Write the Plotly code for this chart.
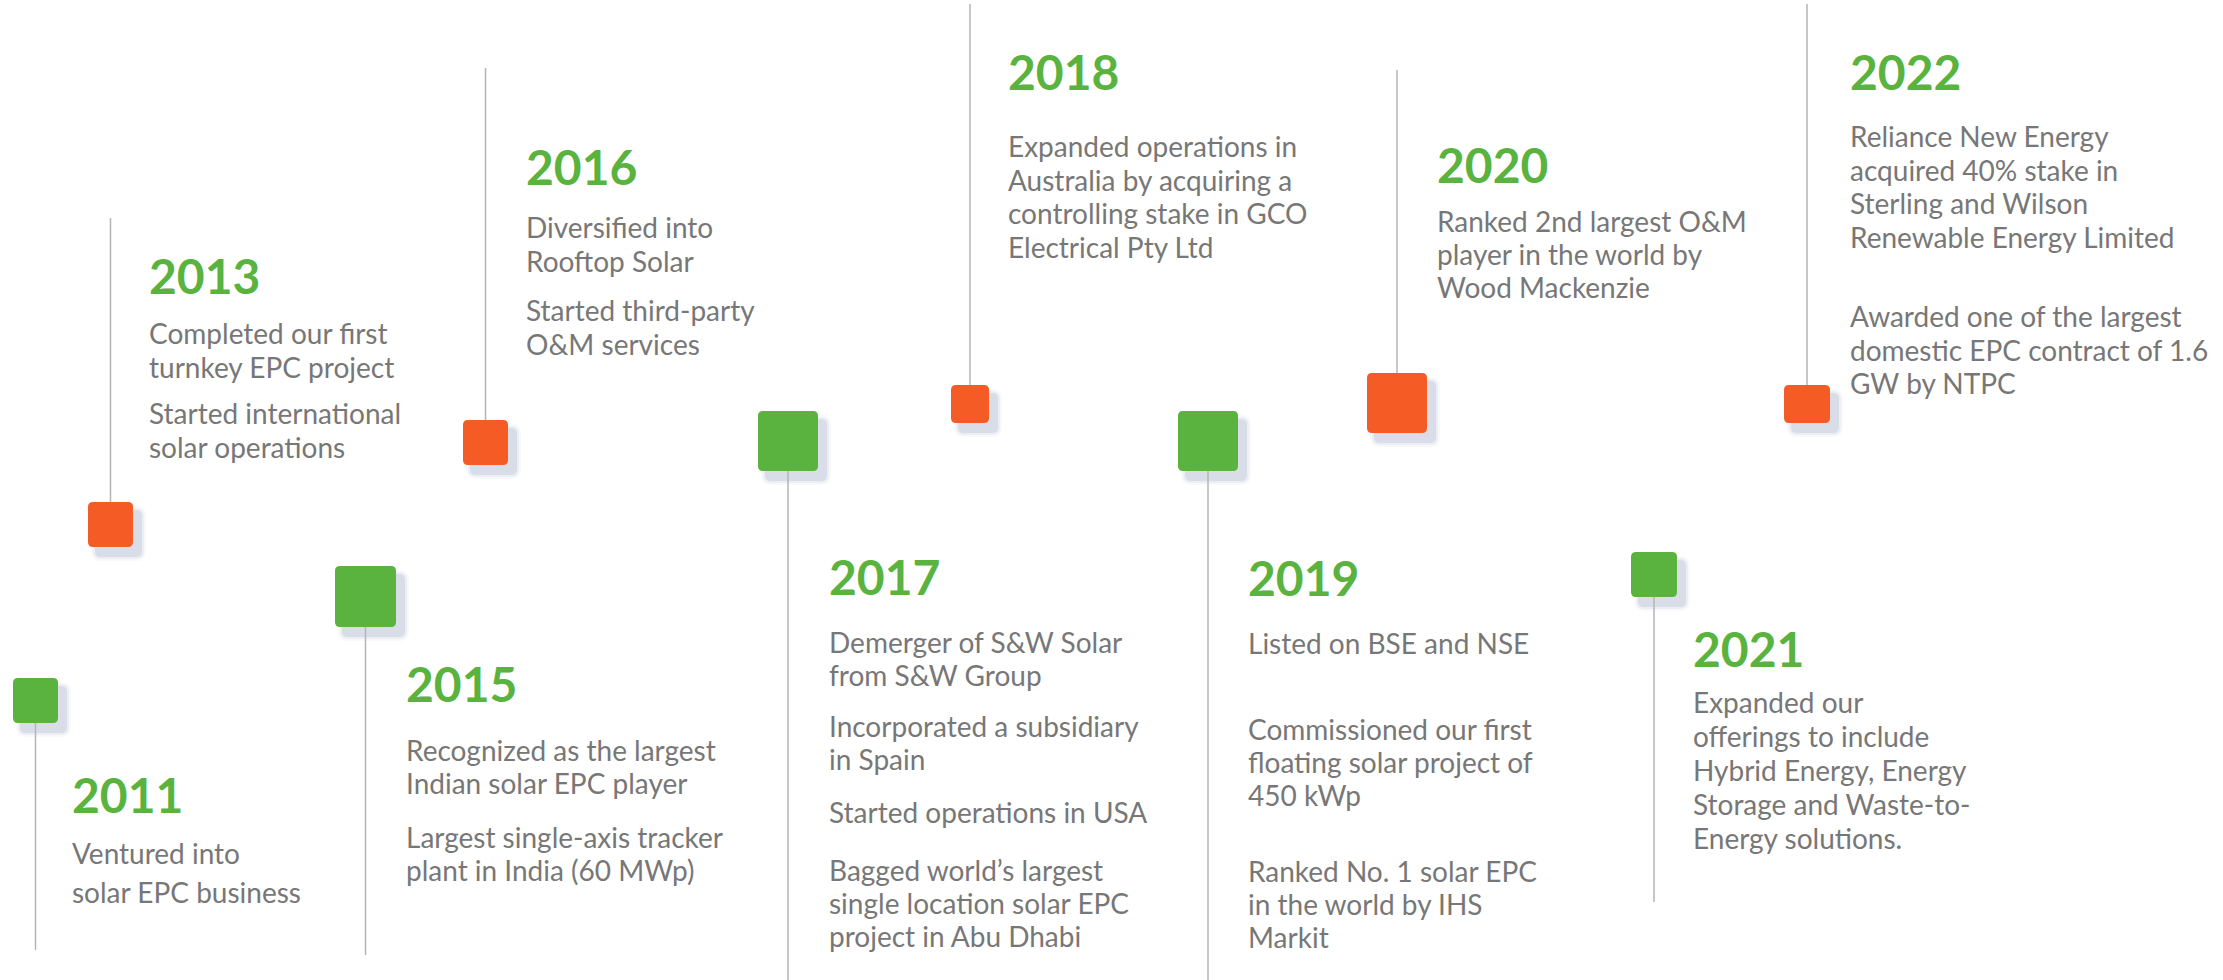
import plotly.graph_objects as go

W, H = 2223, 980
GREEN = "#59b33e"
ORANGE = "#f45b25"
TEXT_GREY = "#777777"
STEM_GREY = "#b5b5b5"
FONT = "Lato"
YEAR_SIZE = 48
BODY_SIZE = 28

# --- content -------------------------------------------------------------
years = ["2011", "2013", "2015", "2016", "2017", "2018", "2019", "2020", "2021", "2022"]

# one entry per year: list of paragraphs, each paragraph = its wrapped lines
milestones = [
    [["Ventured into", "solar EPC business"]],
    [["Completed our first", "turnkey EPC project"],
     ["Started international", "solar operations"]],
    [["Recognized as the largest", "Indian solar EPC player"],
     ["Largest single-axis tracker", "plant in India (60 MWp)"]],
    [["Diversified into", "Rooftop Solar"],
     ["Started third-party", "O&M services"]],
    [["Demerger of S&W Solar", "from S&W Group"],
     ["Incorporated a subsidiary", "in Spain"],
     ["Started operations in USA"],
     ["Bagged world\u2019s largest", "single location solar EPC", "project in Abu Dhabi"]],
    [["Expanded operations in", "Australia by acquiring a",
      "controlling stake in GCO", "Electrical Pty Ltd"]],
    [["Listed on BSE and NSE"],
     ["Commissioned our first", "floating solar project of", "450 kWp"],
     ["Ranked No. 1 solar EPC", "in the world by IHS", "Markit"]],
    [["Ranked 2nd largest O&M", "player in the world by", "Wood Mackenzie"]],
    [["Expanded our", "offerings to include", "Hybrid Energy, Energy",
      "Storage and Waste-to-", "Energy solutions."]],
    [["Reliance New Energy", "acquired 40% stake in", "Sterling and Wilson",
      "Renewable Energy Limited"],
     ["Awarded one of the largest", "domestic EPC contract of 1.6", "GW by NTPC"]],
]

# --- layout (pixel space, y grows downward) -------------------------------
box_color = [GREEN, ORANGE, GREEN, ORANGE, GREEN, ORANGE, GREEN, ORANGE, GREEN, ORANGE]
box_x = [13, 88, 335, 463, 758, 951, 1178, 1367, 1631, 1784]
box_y = [678, 502, 566, 420, 411, 385, 411, 373, 552, 385]
box_w = [45, 45, 61, 45, 60, 38, 60, 60, 46, 46]
box_h = [45, 45, 61, 45, 60, 38, 60, 60, 45, 38]
stem_end = [950, 218, 955, 68, 980, 4, 980, 70, 902, 4]

label_x = [72, 149, 406, 526, 829, 1008, 1248, 1437, 1693, 1850]
year_base = [813, 294, 702, 185, 595, 90, 596, 183, 667, 90]
para_base = [[864], [344, 424], [761, 848], [238, 321], [653, 737, 823, 881],
             [157], [654, 740, 882], [232], [713], [147, 327]]
line_step = [39, 33.5, 33, 34, 33, 33.7, 33, 33, 34, 33.5]


def rounded_rect(x0, y0, x1, y1, r):
    return (f"M{x0 + r},{y0} H{x1 - r} Q{x1},{y0} {x1},{y0 + r} V{y1 - r} "
            f"Q{x1},{y1} {x1 - r},{y1} H{x0 + r} Q{x0},{y1} {x0},{y1 - r} "
            f"V{y0 + r} Q{x0},{y0} {x0 + r},{y0} Z")


fig = go.Figure()

# vertical stems
stem_xs, stem_ys = [], []
for i in range(len(years)):
    cx = box_x[i] + box_w[i] / 2
    start = box_y[i] + box_h[i] if stem_end[i] > box_y[i] else box_y[i]
    stem_xs += [cx, cx, None]
    stem_ys += [start, stem_end[i], None]
fig.add_trace(go.Scatter(x=stem_xs, y=stem_ys, mode="lines",
                         line=dict(color=STEM_GREY, width=1.5),
                         hoverinfo="skip", showlegend=False))

# year labels
fig.add_trace(go.Scatter(
    x=label_x, y=[b - 0.25 * YEAR_SIZE for b in year_base], text=years,
    mode="text", textposition="middle right", cliponaxis=False,
    textfont=dict(family=FONT, size=YEAR_SIZE, color=GREEN, weight="bold"),
    hoverinfo="skip", showlegend=False))

# description lines
tx, ty, tt = [], [], []
for i, paras in enumerate(milestones):
    for p, lines in enumerate(paras):
        for k, line in enumerate(lines):
            tx.append(label_x[i])
            ty.append(para_base[i][p] + k * line_step[i] - 0.25 * BODY_SIZE)
            tt.append(line)
fig.add_trace(go.Scatter(
    x=tx, y=ty, text=tt, mode="text", textposition="middle right", cliponaxis=False,
    textfont=dict(family=FONT, size=BODY_SIZE, color=TEXT_GREY),
    hoverinfo="skip", showlegend=False))

# milestone boxes with a soft drop shadow
shapes = []
for i in range(len(years)):
    x0, y0 = box_x[i], box_y[i]
    x1, y1 = x0 + box_w[i], y0 + box_h[i]
    for grow, alpha in [(5, 0.05), (3, 0.09), (1, 0.16)]:
        shapes.append(dict(type="path", xref="x", yref="y", layer="below",
                           path=rounded_rect(x0 + 8 - grow, y0 + 9 - grow,
                                             x1 + 8 + grow, y1 + 9 + grow, 5 + grow),
                           fillcolor=f"rgba(120,135,170,{alpha})", line_width=0))
    shapes.append(dict(type="path", xref="x", yref="y", layer="above",
                       path=rounded_rect(x0, y0, x1, y1, 5),
                       fillcolor=box_color[i], line_width=0))

fig.update_layout(
    width=W, height=H,
    margin=dict(l=0, r=0, t=0, b=0),
    paper_bgcolor="white", plot_bgcolor="white",
    shapes=shapes,
    xaxis=dict(range=[0, W], visible=False, fixedrange=True),
    yaxis=dict(range=[H, 0], visible=False, fixedrange=True),
    font=dict(family=FONT),
)

fig.write_html("out.html", config={"displayModeBar": False},
               post_script="document.body.style.margin='0';")
